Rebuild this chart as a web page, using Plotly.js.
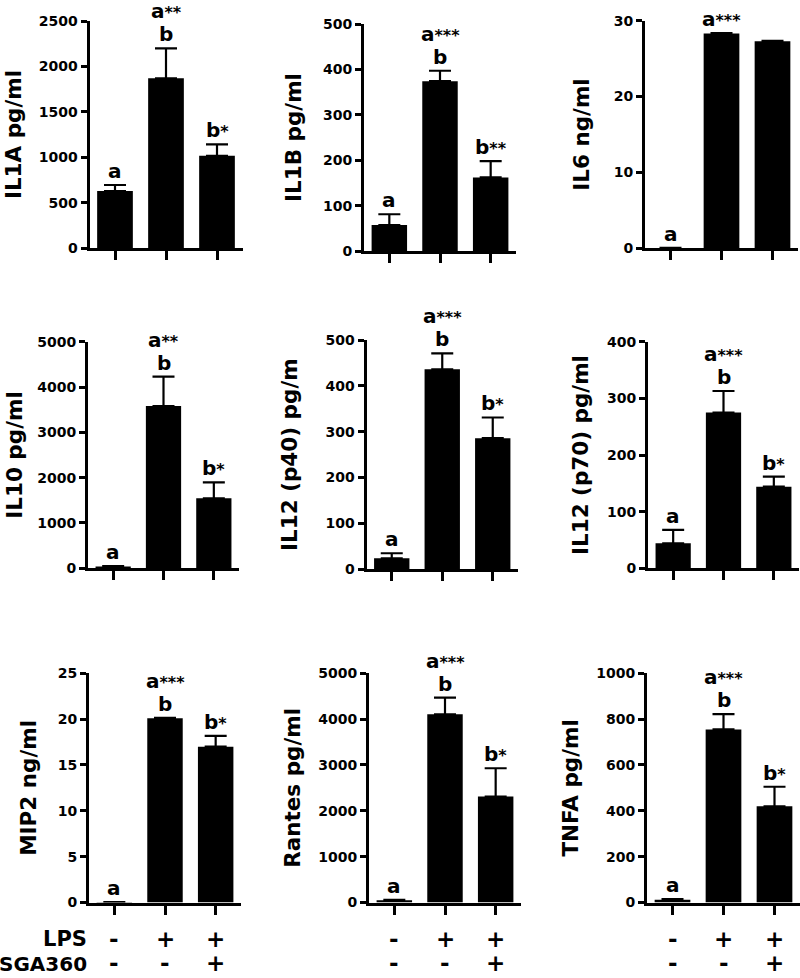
<!DOCTYPE html>
<html>
<head>
<meta charset="utf-8">
<script src="https://cdn.plot.ly/plotly-3.0.1.min.js"></script>
<style>
  html, body { margin: 0; padding: 0; background: #fff; }
  #chart { width: 800px; height: 978px; }
</style>
</head>
<body>
<div id="chart"></div>
<script>
// ── Données ─────────────────────────────────────────────
const groups = ['ctrl', 'LPS', 'LPS+SGA360'];
const LPS    = ['-', '+', '+'];
const SGA360 = ['-', '-', '+'];

const IL1A_mean    = [628, 1869, 1016];
const IL1A_sem     = [66, 330, 126];
const IL1A_lbl     = ['a', 'b', 'b*'];
const IL1A_lbl2    = ['', 'a**', ''];

const IL1B_mean    = [57, 374, 162];
const IL1B_sem     = [24, 23, 36];
const IL1B_lbl     = ['a', 'b', 'b**'];
const IL1B_lbl2    = ['', 'a***', ''];

const IL6_mean     = [0.05, 28.3, 27.3];
const IL6_sem      = [0, 0.05, 0.05];
const IL6_lbl      = ['a', 'a***', ''];
const IL6_lbl2     = ['', '', ''];

const IL10_mean    = [40, 3581, 1545];
const IL10_sem     = [10, 647, 353];
const IL10_lbl     = ['a', 'b', 'b*'];
const IL10_lbl2    = ['', 'a**', ''];

const IL12p40_mean = [24, 436, 286];
const IL12p40_sem  = [11, 35, 45];
const IL12p40_lbl  = ['a', 'b', 'b*'];
const IL12p40_lbl2 = ['', 'a***', ''];

const IL12p70_mean = [44, 275, 144];
const IL12p70_sem  = [24, 38, 18];
const IL12p70_lbl  = ['a', 'b', 'b*'];
const IL12p70_lbl2 = ['', 'a***', ''];

const MIP2_mean    = [0.05, 20.1, 17.0];
const MIP2_sem     = [0, 0.05, 1.17];
const MIP2_lbl     = ['a', 'b', 'b*'];
const MIP2_lbl2    = ['', 'a***', ''];

const RANTES_mean  = [50, 4106, 2310];
const RANTES_sem   = [10, 362, 619];
const RANTES_lbl   = ['a', 'b', 'b*'];
const RANTES_lbl2  = ['', 'a***', ''];

const TNFA_mean    = [12, 755, 420];
const TNFA_sem     = [3, 67, 85];
const TNFA_lbl     = ['a', 'b', 'b*'];
const TNFA_lbl2    = ['', 'a***', ''];

const PANELS = [
  { title: 'IL1A pg/ml',      mean: IL1A_mean,    sem: IL1A_sem,    lbl: IL1A_lbl,    lbl2: IL1A_lbl2,    max: 2500, dtick: 500 },
  { title: 'IL1B pg/ml',      mean: IL1B_mean,    sem: IL1B_sem,    lbl: IL1B_lbl,    lbl2: IL1B_lbl2,    max: 500,  dtick: 100 },
  { title: 'IL6 ng/ml',       mean: IL6_mean,     sem: IL6_sem,     lbl: IL6_lbl,     lbl2: IL6_lbl2,     max: 30,   dtick: 10 },
  { title: 'IL10 pg/ml',      mean: IL10_mean,    sem: IL10_sem,    lbl: IL10_lbl,    lbl2: IL10_lbl2,    max: 5000, dtick: 1000 },
  { title: 'IL12 (p40) pg/m', mean: IL12p40_mean, sem: IL12p40_sem, lbl: IL12p40_lbl, lbl2: IL12p40_lbl2, max: 500,  dtick: 100 },
  { title: 'IL12 (p70) pg/ml',mean: IL12p70_mean, sem: IL12p70_sem, lbl: IL12p70_lbl, lbl2: IL12p70_lbl2, max: 400,  dtick: 100 },
  { title: 'MIP2 ng/ml',      mean: MIP2_mean,    sem: MIP2_sem,    lbl: MIP2_lbl,    lbl2: MIP2_lbl2,    max: 25,   dtick: 5 },
  { title: 'Rantes pg/ml',    mean: RANTES_mean,  sem: RANTES_sem,  lbl: RANTES_lbl,  lbl2: RANTES_lbl2,  max: 5000, dtick: 1000 },
  { title: 'TNFA pg/ml',      mean: TNFA_mean,    sem: TNFA_sem,    lbl: TNFA_lbl,    lbl2: TNFA_lbl2,    max: 1000, dtick: 200 },
];

// ── Géométrie (pixels : gauche, droite, haut, bas) ──────
const W = 800, H = 978;
const BOX = [
  [89.5, 242.5, 21, 248], [364, 516, 24, 251], [645, 798, 20.7, 248.3],
  [88, 239, 341.7, 568.3], [366.5, 518, 340, 569.3], [648, 799, 341.7, 568.3],
  [89, 241, 673.3, 902.5], [369, 521, 673.3, 902.5], [647, 800, 673.3, 902.5],
];
const STANDOFF = [12, 16, 19, 9, 22, 13, 16, 12, 12];

const FONT = 'DejaVu Sans, Arial, sans-serif';
const bold = (size) => ({ family: FONT, size, color: '#000', weight: 'bold' });
const px2x = (p) => p / W;
const px2y = (p) => 1 - p / H;
// étoiles un peu plus petites, sans décalage vertical (évite de sortir du cadre)
const fmtLbl = (s) => s.replace(/(\*+)/, '<span style="font-size:16px">$1</span>');

const traces = [];
const annotations = [];
const layout = {
  width: W, height: H,
  margin: { l: 0, r: 0, t: 0, b: 0 },
  paper_bgcolor: '#fff', plot_bgcolor: '#fff',
  showlegend: false,
  font: bold(14),
};

PANELS.forEach((p, i) => {
  const n  = i === 0 ? '' : String(i + 1);
  const xa = 'x' + n, ya = 'y' + n;
  const [l, r, t, b] = BOX[i];

  traces.push({
    type: 'bar', x: groups, y: p.mean, xaxis: xa, yaxis: ya,
    width: 0.7,
    marker: { color: '#000', line: { width: 0 } },
    error_y: {
      type: 'data', symmetric: false, array: p.sem, arrayminus: p.sem.map(() => 0),
      color: '#000', thickness: 2.2, width: 11,
    },
    hoverinfo: 'skip',
  });

  layout['xaxis' + n] = {
    domain: [px2x(l), px2x(r)], anchor: ya, type: 'category',
    range: [-0.5, 2.5], fixedrange: true,
    showline: true, linewidth: 3, linecolor: '#000',
    ticks: 'outside', ticklen: 9, tickwidth: 3, tickcolor: '#000',
    showticklabels: false, showgrid: false, zeroline: false,
  };
  layout['yaxis' + n] = {
    domain: [px2y(b), px2y(t)], anchor: xa,
    range: [0, p.max], tick0: 0, dtick: p.dtick, fixedrange: true,
    showline: true, linewidth: 3, linecolor: '#000',
    ticks: 'outside', ticklen: 6, tickwidth: 3, tickcolor: '#000',
    tickfont: bold(14), showgrid: false, zeroline: false,
    title: { text: p.title, font: bold(21.5), standoff: STANDOFF[i] },
  };

  // lettres de significativité
  p.mean.forEach((m, k) => {
    const top = m + p.sem[k];
    if (p.lbl[k]) annotations.push({
      xref: xa, yref: ya, x: groups[k], y: top, yanchor: 'bottom',
      text: fmtLbl(p.lbl[k]), showarrow: false, yshift: 0, font: bold(20),
    });
    if (p.lbl2[k]) annotations.push({
      xref: xa, yref: ya, x: groups[k], y: top, yanchor: 'bottom',
      text: fmtLbl(p.lbl2[k]), showarrow: false, yshift: 23, font: bold(20),
    });
  });
});

// lignes LPS / SGA360 sous la dernière rangée
annotations.push(
  { xref: 'paper', yref: 'paper', x: px2x(89), y: px2y(939), xanchor: 'right', yanchor: 'middle',
    text: 'LPS', showarrow: false, font: bold(21) },
  { xref: 'paper', yref: 'paper', x: px2x(89), y: 0, xanchor: 'right', yanchor: 'bottom',
    text: 'SGA360', showarrow: false, font: bold(20) },
);
['x7', 'x8', 'x9'].forEach(xa => {
  groups.forEach((g, k) => {
    annotations.push(
      { xref: xa, yref: 'paper', x: g, y: px2y(939), yanchor: 'middle', text: LPS[k], showarrow: false, font: bold(23) },
      { xref: xa, yref: 'paper', x: g, y: 0, yanchor: 'bottom', text: SGA360[k], showarrow: false, font: bold(23) },
    );
  });
});

layout.annotations = annotations;

Plotly.newPlot('chart', traces, layout, { staticPlot: true, displayModeBar: false });
</script>
</body>
</html>
